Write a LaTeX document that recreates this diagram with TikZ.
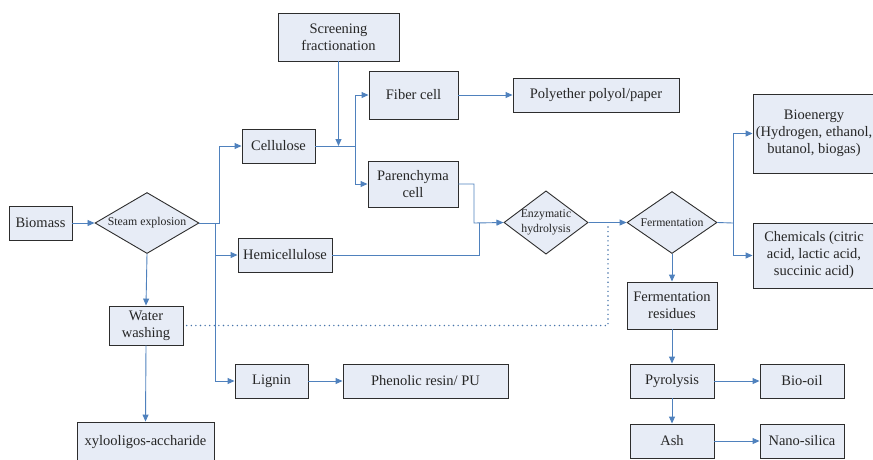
\documentclass[tikz,border=0pt]{standalone}
\usepackage{fontspec}
\setmainfont{Liberation Serif}
\usetikzlibrary{arrows.meta,shapes.geometric}
\definecolor{boxfill}{RGB}{231,236,246}
\definecolor{linkblue}{RGB}{79,129,189}
\definecolor{edge}{RGB}{45,45,45}
\begin{document}
\begin{tikzpicture}[x=1pt, y=-1pt, >={Triangle[length=7pt,width=6pt]},
    box/.style={draw=edge, fill=boxfill, line width=0.9pt, inner sep=0pt, align=center,
      font=\fontsize{14.5}{17}\selectfont, text=black!85},
    dia/.style={diamond, draw=edge, fill=boxfill, line width=0.9pt, inner sep=0pt, align=center,
      font=\fontsize{11.8}{15}\selectfont, text=black!85},
    link/.style={draw=linkblue, line width=0.9pt},
    dots/.style={draw=linkblue!90!black, line width=1.6pt, line cap=round, dash pattern=on 0pt off 4.6pt}]
        \clip (0,0) rectangle (873,459);
        \node[box, minimum width=63, minimum height=34] (bio) at (40.5,223) {Biomass};
        \node[dia, aspect=1.7, minimum width=104, minimum height=61] (steam) at (147,223) {Steam explosion};
        \node[box, minimum width=73, minimum height=34] (cel) at (278.5,146) {Cellulose};
        \node[box, minimum width=121, minimum height=48] (scr) at (338.5,37) {Screening\\fractionation};
        \node[box, minimum width=89, minimum height=48] (fib) at (413.5,95) {Fiber cell};
        \node[box, minimum width=166, minimum height=34] (poly) at (596,95) {Polyether polyol/paper};
        \node[box, minimum width=90, minimum height=46] (par) at (413,184) {Parenchyma\\cell};
        \node[box, minimum width=94, minimum height=34] (hemi) at (285,255) {Hemicellulose};
        \node[box, minimum width=73, minimum height=34] (lig) at (271.5,381) {Lignin};
        \node[box, minimum width=165, minimum height=34] (phen) at (425.5,381) {Phenolic resin/ PU};
        \node[box, minimum width=74, minimum height=39] (wash) at (146,325.5) {Water\\washing};
        \node[box, minimum width=137, minimum height=40] (xylo) at (145.5,442) {xylooligos-accharide};
        \node[dia, aspect=1.33, minimum width=84, minimum height=63] (enz) at (546,222.5) {Enzymatic\\hydrolysis};
        \node[dia, aspect=1.45, minimum width=90, minimum height=62] (ferm) at (672,222.5) {Fermentation};
        \node[box, minimum width=122, minimum height=79] (energy) at (814,133.5) {Bioenergy\\(Hydrogen, ethanol,\\butanol, biogas)};
        \node[box, minimum width=122, minimum height=65] (chem) at (814,255.5) {Chemicals (citric\\acid, lactic acid,\\succinic acid)};
        \node[box, minimum width=90, minimum height=47] (res) at (672,305.5) {Fermentation\\residues};
        \node[box, minimum width=84, minimum height=34] (pyro) at (672,381) {Pyrolysis};
        \node[box, minimum width=84, minimum height=34] (oil) at (802,381) {Bio-oil};
        \node[box, minimum width=84, minimum height=34] (ash) at (672,441) {Ash};
        \node[box, minimum width=84, minimum height=34] (silica) at (802,441) {Nano-silica};

        \coordinate (cj) at (219,223);
        \coordinate (sj) at (215,223);
        \coordinate (fj) at (355,146);
        \coordinate (pj) at (474,223);
        \coordinate (hj) at (479,223);
        \coordinate (rj) at (733,223);
        \coordinate (dj) at (608,227);

        \draw[link, ->] (bio) to (steam);
        \draw[link, ->] (steam.east) -- (cj) |- (cel.west);
        \draw[link, ->] (sj) |- (hemi.west);
        \draw[link, ->] (sj) |- (lig.west);
        \draw[link, ->] (steam.south) to (wash.north);
        \draw[link, ->] (wash.south) to (xylo.north);
        \draw[link, ->] (lig) to (phen);
        \draw[link] (cel.east) -- (fj);
        \draw[link, ->] (fj) |- (fib.west);
        \draw[link, ->] (fj) |- (par.west);
        \draw[link, ->] (scr.south) to (scr.south |- cel.east);
        \draw[link, ->] (fib) to (poly);
        \draw[link, ->] (par.east) -| (pj) -- (enz.west);
        \draw[link] (hemi.east) -| (hj);
        \draw[link, ->] (enz) to (ferm);
        \draw[dots] (dj) |- (wash.east);
        \draw[link] (ferm.east) -- (rj);
        \draw[link, ->] (rj) |- (energy.west);
        \draw[link, ->] (rj) |- (chem.west);
        \draw[link, ->] (ferm.south) to (res.north);
        \draw[link, ->] (res.south) to (pyro.north);
        \draw[link, ->] (pyro) to (oil);
        \draw[link, ->] (pyro.south) to (ash.north);
        \draw[link, ->] (ash) to (silica);

      \end{tikzpicture}
\end{document}
